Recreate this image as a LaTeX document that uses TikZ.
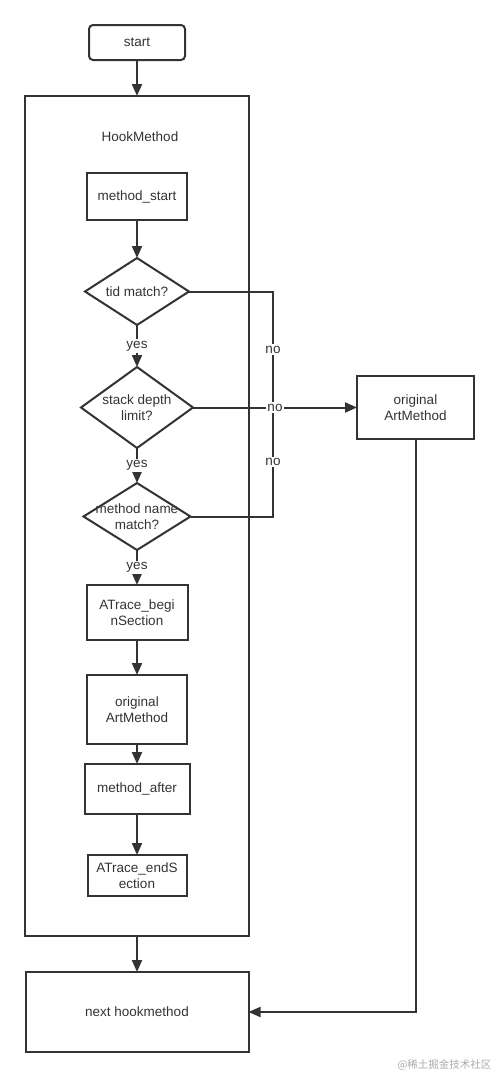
\documentclass[tikz,border=0pt]{standalone}
\usepackage{fontspec}
\setmainfont{Liberation Sans}
\newfontfamily\cjk{Noto Sans CJK SC}
\usetikzlibrary{positioning,arrows.meta,shapes.geometric}
\definecolor{FlowGray}{HTML}{333333}
\definecolor{MarkGray}{HTML}{AAAAAA}

\begin{document}
\begin{tikzpicture}[
x=1pt,y=1pt,
font=\fontsize{13.5}{16}\selectfont,
text=FlowGray,
flowbase/.style={draw=FlowGray,line width=2pt,align=center,inner sep=0pt,outer sep=0pt},
box/.style={flowbase,rectangle,minimum width=100pt},
decision/.style={flowbase,diamond},
lbl/.style={fill=white,inner sep=1.5pt},
arrow/.style={-{Triangle[length=12pt,width=10pt]},line width=2pt,draw=FlowGray},
wire/.style={line width=2pt,draw=FlowGray}
]
\useasboundingbox (0,0) rectangle (499,-1076);

\node[flowbase,rectangle,rounded corners=4pt,minimum width=96pt,minimum height=35pt] (start) at (137,-42.5) {start};

\node[flowbase,rectangle,minimum width=224pt,minimum height=840pt] (hook) at (137,-516) {};
\node (hooklbl) at (140,-137) {HookMethod};

\node[box,minimum height=47pt] (mstart) at (137,-196.5) {method\_start};

\node[decision,minimum width=104pt,minimum height=67pt,
  label={[align=center]center:tid match?},below=38pt of mstart] (tid) {};

\node[decision,minimum width=112pt,minimum height=81pt,
  label={[align=center]center:stack depth\\limit?},below=42pt of tid] (stack) {};

\node[decision,minimum width=107pt,minimum height=67pt,
  label={[align=center]center:method name\\match?},below=35pt of stack] (name) {};

\node[box,minimum width=101pt,minimum height=55pt,below=35pt of name] (begin) {ATrace\_begi\\nSection};

\node[box,minimum height=69pt,below=35pt of begin] (orig1) {original\\ArtMethod};

\node[box,minimum width=105pt,minimum height=50pt,below=20pt of orig1] (after) {method\_after};

\node[box,minimum width=99pt,minimum height=41pt,below=41pt of after] (endsec) {ATrace\_endS\\ection};

\node[box,minimum width=223pt,minimum height=80pt,below=36pt of hook] (next) {next hookmethod};

\node[box,minimum width=117pt,minimum height=63pt,right=164pt of stack] (orig2) {original\\ArtMethod};

\coordinate[right=80pt of stack.east] (join);

% main column
\draw[arrow] (start) -- (hook);
\draw[arrow] (mstart) -- (tid);
\draw[arrow] (tid) -- node[lbl]{yes} (stack);
\draw[arrow] (stack) -- node[lbl]{yes} (name);
\draw[arrow] (name) -- node[lbl]{yes} (begin);
\draw[arrow] (begin) -- (orig1);
\draw[arrow] (orig1) -- (after);
\draw[arrow] (after) -- (endsec);
\draw[arrow] (hook) -- (next);

% no branches
\draw[wire] (tid.east) -| node[lbl,pos=0.75]{no} (join);
\draw[wire] (name.east) -| node[lbl,pos=0.75]{no} (join);
\draw[arrow] (stack.east) -- node[lbl]{no} (orig2.west);
\draw[arrow] (orig2.south) |- (next.east);

\node[font=\cjk\fontsize{10.5}{12}\selectfont,text=MarkGray,anchor=east] (mark) at (495,-1065) {@稀土掘金技术社区};

\end{tikzpicture}
\end{document}
